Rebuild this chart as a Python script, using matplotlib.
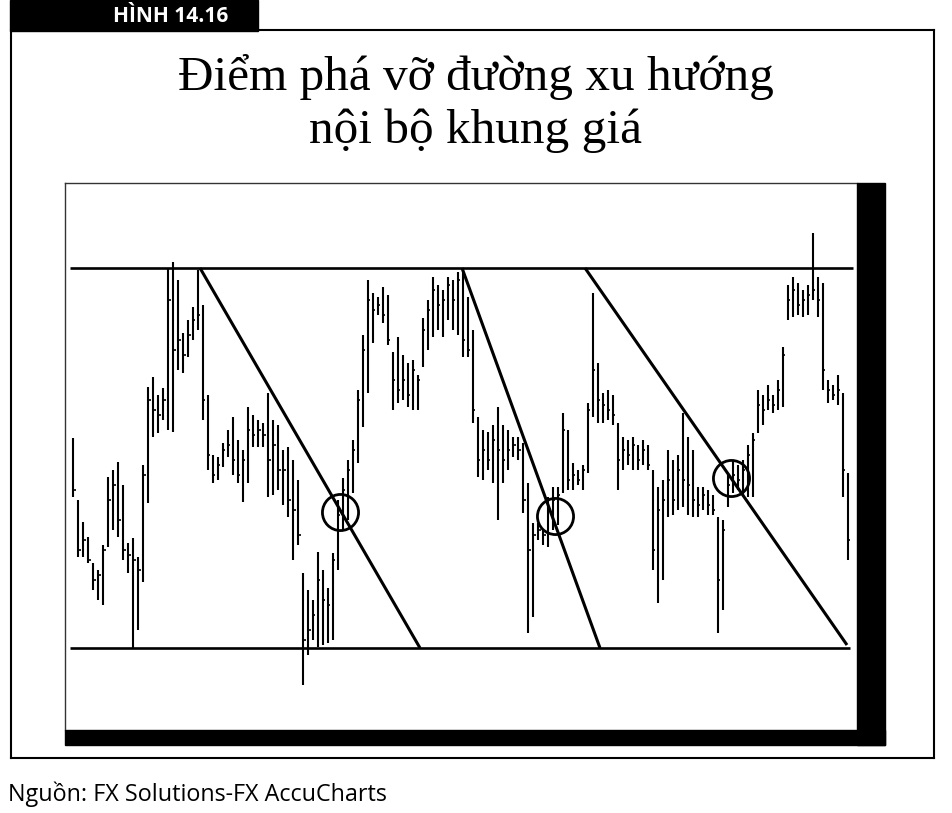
import matplotlib
matplotlib.use("Agg")
import matplotlib.pyplot as plt
from matplotlib.patches import Rectangle
from matplotlib.lines import Line2D
import numpy as np

# ---------------- data (price units, arbitrary scale) ----------------
high = [262, 200, 178, 163, 137, 130, 155, 223, 230, 238, 215, 157, 162, 143, 235, 313, 323, 305, 312, 432,
        438, 420, 367, 380, 393, 430, 395, 305, 245, 243, 257, 270, 283, 260, 250, 293, 285, 280, 277, 307,
        280, 275, 250, 253, 240, 220, 127, 110, 100, 148, 130, 112, 147, 200, 222, 240, 260, 310, 365, 420,
        407, 403, 413, 405, 348, 363, 345, 337, 340, 325, 382, 400, 423, 415, 410, 423, 420, 428, 430, 403,
        370, 283, 270, 268, 275, 293, 275, 270, 263, 263, 257, 217, 177, 177, 170, 203, 213, 213, 287, 270,
        237, 230, 235, 297, 407, 337, 307, 310, 305, 277, 263, 260, 263, 255, 260, 255, 230, 213, 220, 250,
        240, 245, 287, 263, 250, 213, 213, 210, 205, 183, 180, 227, 240, 235, 240, 255, 267, 310, 305, 315,
        305, 320, 353, 415, 423, 417, 410, 415, 467, 423, 417, 320, 315, 325, 307, 227]
low = [203, 143, 143, 137, 110, 100, 95, 153, 170, 163, 140, 127, 52, 70, 118, 197, 263, 267, 280, 270,
       268, 330, 327, 343, 360, 370, 280, 230, 217, 220, 233, 243, 225, 217, 198, 217, 253, 253, 253, 203,
       205, 210, 195, 183, 140, 155, 15, 45, 60, 53, 55, 57, 60, 130, 170, 180, 207, 237, 273, 307,
       357, 385, 377, 355, 290, 297, 300, 293, 290, 290, 333, 350, 363, 370, 363, 380, 370, 365, 343, 343,
       277, 223, 220, 230, 217, 180, 217, 230, 243, 240, 187, 67, 83, 160, 155, 153, 170, 175, 207, 210,
       210, 215, 210, 227, 283, 277, 277, 280, 275, 210, 230, 235, 230, 230, 235, 230, 130, 97, 120, 183,
       185, 190, 193, 185, 183, 183, 190, 185, 185, 67, 90, 193, 207, 210, 205, 203, 203, 267, 275, 290,
       287, 290, 293, 380, 383, 385, 383, 385, 400, 383, 310, 297, 300, 295, 203, 140]
close = [210, 150, 160, 140, 120, 125, 150, 200, 215, 180, 150, 145, 140, 130, 225, 300, 290, 285, 300, 400,
         350, 360, 345, 365, 380, 385, 300, 245, 225, 235, 250, 255, 240, 225, 240, 270, 265, 270, 265, 240,
         255, 230, 230, 200, 190, 165, 60, 70, 85, 120, 100, 95, 140, 185, 210, 230, 250, 300, 350, 400,
         390, 395, 385, 360, 320, 310, 320, 305, 330, 320, 370, 390, 410, 395, 400, 415, 400, 420, 360, 350,
         290, 240, 250, 240, 260, 250, 240, 250, 255, 250, 200, 150, 165, 170, 165, 190, 200, 205, 270, 220,
         225, 220, 230, 290, 330, 300, 295, 290, 285, 240, 250, 245, 255, 240, 250, 235, 150, 190, 200, 220,
         200, 230, 220, 215, 200, 195, 205, 195, 190, 120, 170, 215, 225, 220, 230, 245, 260, 295, 290, 300,
         295, 310, 345, 400, 410, 395, 400, 405, 410, 400, 330, 310, 305, 310, 230, 160]

resistance = 432
support = 52
# descending trendlines: (start bar, start price, end bar, end price)
trend_x0 = [25.4, 77.8, 102.4]
trend_y0 = [432, 432, 432]
trend_x1 = [69.4, 105.4, 154.8]
trend_y1 = [52, 52, 55]
# breakout points (circled)
break_x = [53.4, 96.4, 131.6]
break_y = [188, 184, 222]

title = "Điểm phá vỡ đường xu hướng\nnội bộ khung giá"
label = "HÌNH 14.16"
source = "Nguồn: FX Solutions-FX AccuCharts"

# ---------------- figure ----------------
W, H = 953, 813
fig = plt.figure(figsize=(W / 100, H / 100), dpi=100)
fig.patch.set_facecolor("white")

def fx(px):
    return px / W

def fy(py):
    return 1 - py / H

# chart axes (pixel box 65..857 x 183..730)
ax = fig.add_axes([fx(65), fy(730), fx(857) - fx(65), fy(183) - fy(730)])
n = len(high)
xs = np.arange(n)
ax.vlines(xs, low, high, color="black", lw=1.5)
ax.hlines(close, xs, xs + 0.5, color="black", lw=1.2)

ax.plot([-0.6, 156], [resistance, resistance], color="black", lw=1.9, solid_capstyle="butt")
ax.plot([-0.6, 155.5], [support, support], color="black", lw=1.9, solid_capstyle="butt")
for a, b, c, d in zip(trend_x0, trend_y0, trend_x1, trend_y1):
    ax.plot([a, c], [b, d], color="black", lw=2.2, solid_capstyle="butt")
ax.plot(break_x, break_y, linestyle="none", marker="o", markersize=26,
        markerfacecolor="none", markeredgecolor="black", markeredgewidth=2.0)

ax.set_xlim(-1.6, 156.8)
ax.set_ylim(-30, 517)
ax.set_xticks([])
ax.set_yticks([])
for s in ["right", "bottom"]:
    ax.spines[s].set_visible(False)
for s in ["left", "top"]:
    ax.spines[s].set_linewidth(1.0)
    ax.spines[s].set_color("#333333")

# thick black frame at right and bottom of chart panel
fig.patches.append(Rectangle((fx(857), fy(745)), fx(885) - fx(857), fy(183) - fy(745),
                             transform=fig.transFigure, color="black", zorder=5))
fig.patches.append(Rectangle((fx(65), fy(745)), fx(885) - fx(65), fy(730) - fy(745),
                             transform=fig.transFigure, color="black", zorder=5))

# outer frame
frame_kw = dict(transform=fig.transFigure, color="black", lw=1.5)
fig.lines.append(Line2D([fx(11), fx(11)], [fy(30), fy(758)], **frame_kw))
fig.lines.append(Line2D([fx(934), fx(934)], [fy(30), fy(758)], **frame_kw))
fig.lines.append(Line2D([fx(11), fx(934)], [fy(758), fy(758)], **frame_kw))
fig.lines.append(Line2D([fx(258), fx(934)], [fy(30), fy(30)], **frame_kw))

# header label box
fig.patches.append(Rectangle((fx(10), fy(31)), fx(258) - fx(10), fy(0) - fy(31),
                             transform=fig.transFigure, color="black", zorder=5))
fig.text(fx(171), fy(16), label, color="white", fontsize=15, fontweight="bold",
         family=["Open Sans", "DejaVu Sans"], ha="center", va="center", zorder=6)

# title
lines = title.split("\n")
fig.text(fx(476), fy(90), lines[0], fontsize=35.5, family=["Liberation Serif", "DejaVu Serif"],
         ha="center", va="baseline")
fig.text(fx(476), fy(143), lines[1], fontsize=35.5, family=["Liberation Serif", "DejaVu Serif"],
         ha="center", va="baseline")

# source
fig.text(fx(8), fy(801), source, fontsize=16.8, family=["Open Sans", "DejaVu Sans"],
         ha="left", va="baseline")

fig.savefig("out.png", dpi=100, facecolor="white")
